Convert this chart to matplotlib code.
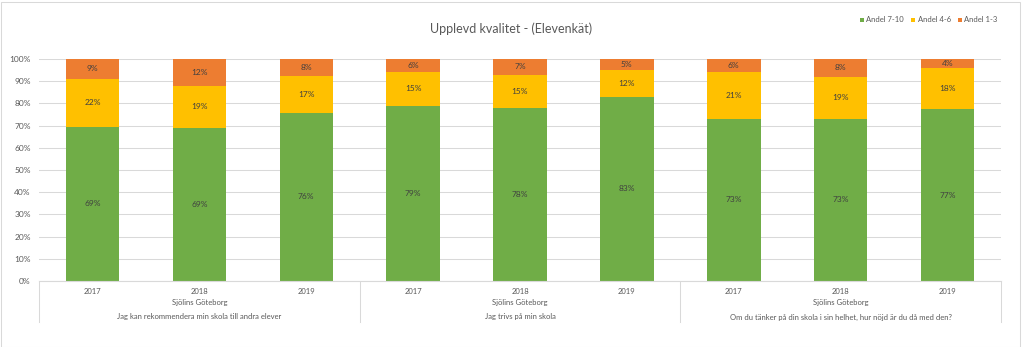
import matplotlib.pyplot as plt
from matplotlib.patches import Rectangle
import numpy as np

plt.rcParams['font.family'] = ['Lato', 'DejaVu Sans']

# data
years = ['2017', '2018', '2019'] * 3
school = 'Sjölins Göteborg'
questions = ['Jag kan rekommendera min skola till andra elever',
             'Jag trivs på min skola',
             'Om du tänker på din skola i sin helhet, hur nöjd är du då med den?']
andel_7_10 = [69.4, 69.0, 75.7, 79.0, 78.0, 83.0, 73.0, 73.0, 77.4]
andel_4_6 = [21.8, 19.0, 16.6, 15.0, 15.0, 12.0, 21.0, 19.0, 18.4]
andel_1_3 = [8.8, 12.0, 7.7, 6.0, 7.0, 5.0, 6.0, 8.0, 4.2]

series = [('Andel 7-10', andel_7_10, '#70AD47'),
          ('Andel 4-6', andel_4_6, '#FFC000'),
          ('Andel 1-3', andel_1_3, '#ED7D31')]

fig = plt.figure(figsize=(10.23, 3.47), dpi=100)
ax = fig.add_axes([39/1023, 66/347, 962/1023, 222/347])

x = np.arange(len(years))
bottom = np.zeros(len(years))
for name, vals, col in series:
    vals = np.array(vals)
    ax.bar(x, vals, 0.5, bottom=bottom, color=col, label=name, zorder=2)
    for xi, b, v in zip(x, bottom, vals):
        ax.text(xi, b + v / 2, f'{v:.0f}%', ha='center', va='center',
                fontsize=6, color='#404040', zorder=3)
    bottom += vals

ax.set_xlim(-0.5, len(years) - 0.5)
ax.set_ylim(0, 100)
ax.set_yticks(np.arange(0, 101, 10))
ax.set_yticklabels([f'{t}%' for t in range(0, 101, 10)], fontsize=6, color='#595959')
ax.tick_params(axis='y', length=0, pad=6)
ax.set_xticks([])
ax.grid(axis='y', color='#D9D9D9', linewidth=0.75, zorder=0)
for s in ['top', 'right', 'left']:
    ax.spines[s].set_visible(False)
ax.spines['bottom'].set_color('#D9D9D9')

# multi-level category axis
trans = ax.get_xaxis_transform()
for xi, yr in zip(x, years):
    ax.text(xi, -10/222, yr, transform=trans, ha='center', va='center',
            fontsize=5.5, color='#595959')
for g, q in enumerate(questions):
    c = g * 3 + 1
    ax.text(c, -22/222, school, transform=trans, ha='center', va='center',
            fontsize=5.5, color='#595959')
    ax.text(c, -36/222, q, transform=trans, ha='center', va='center',
            fontsize=5.5, color='#595959')
for sep in [-0.5, 2.5, 5.5, 8.5]:
    ax.plot([sep, sep], [0, -41/222], transform=trans, color='#D9D9D9',
            linewidth=0.75, clip_on=False)

fig.text(511/1023, 1 - 29/347, 'Upplevd kvalitet - (Elevenkät)', ha='center',
         va='center', fontsize=9, color='#595959')
ax.legend(loc='center right', bbox_to_anchor=(1003/1023, 1 - 20/347),
          bbox_transform=fig.transFigure, ncol=3, frameon=False, fontsize=5.5,
          labelcolor='#595959', handlelength=0.5, handleheight=0.5,
          handletextpad=0.3, columnspacing=1.0, borderpad=0.2)

fig.patches.append(Rectangle((0.5/1023, 0.5/347), 1019/1023, 345/347,
                             transform=fig.transFigure, fill=False,
                             edgecolor='#D9D9D9', linewidth=0.75))

fig.savefig('out.png', dpi=100)
